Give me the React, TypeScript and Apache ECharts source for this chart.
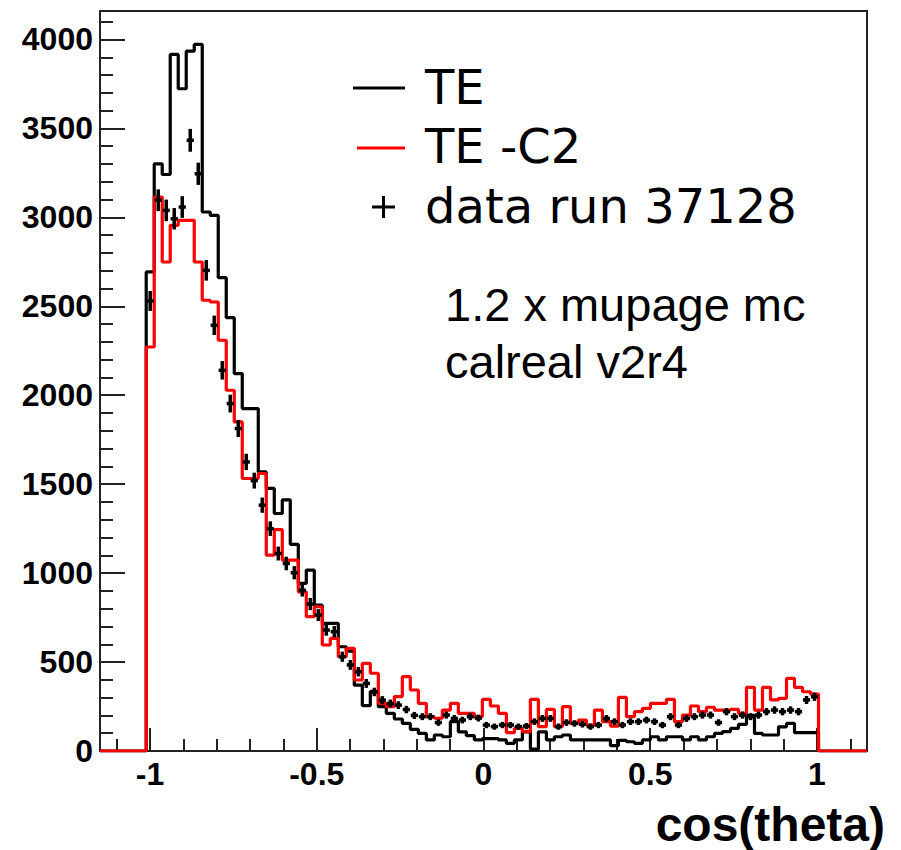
import React, { useEffect, useRef } from "react";
import * as echarts from "echarts";

// Histogram binning (cos(theta))
const BIN_LO = -1.0114;
const BIN_WIDTH = 0.024;
const X_MIN = -1.15;
const X_MAX = 1.15;
const Y_MIN = 0;
const Y_MAX = 4160;

// TE (black histogram)
const TE = [
  2693, 3301, 3241, 3916, 3723, 3934, 3972, 3030, 3011, 2661,
  2436, 2122, 1925, 1925, 1569, 1476, 1335, 1412, 1162, 942,
  1017, 820, 717, 717, 586, 562, 370, 255, 335, 249,
  212, 180, 155, 122, 99, 62, 90, 80, 165, 108,
  86, 62, 70, 70, 62, 43, 62, 108, 10, 108,
  62, 80, 90, 62, 62, 62, 62, 62, 30, 60,
  52, 43, 62, 80, 62, 80, 80, 62, 80, 62,
  80, 99, 109, 127, 150, 200, 99, 90, 90, 136,
  155, 103, 103, 103,
];

// TE -C2 (red histogram)
const TE_C2 = [
  2271, 3114, 2749, 2955, 2983, 2983, 2749, 2534, 2524, 2309,
  2028, 1850, 1532, 1532, 1560, 1101, 1245, 1073, 1073, 895,
  755, 811, 596, 633, 530, 577, 399, 493, 437, 268,
  249, 306, 418, 343, 268, 193, 184, 230, 268, 212,
  212, 193, 290, 253, 212, 103, 127, 109, 290, 137,
  234, 137, 249, 155, 174, 146, 230, 165, 140, 301,
  193, 221, 240, 268, 268, 290, 165, 202, 253, 221,
  246, 230, 230, 234, 212, 358, 230, 358, 287, 296,
  408, 358, 333, 320,
];

// data run 37128 (points with error bars)
const DATA = [
  2530, 3096, 3039, 2992, 3058, 3433, 3245, 2702, 2393, 2140,
  1953, 1813, 1625, 1520, 1382, 1250, 1110, 1054, 1002, 904,
  826, 764, 680, 671, 530, 484, 446, 380, 332, 286,
  267, 258, 233, 200, 193, 193, 160, 202, 183, 174,
  193, 185, 146, 137, 146, 146, 137, 140, 165, 183,
  183, 137, 160, 155, 150, 137, 146, 183, 165, 146,
  165, 165, 174, 165, 146, 193, 146, 183, 193, 202,
  202, 160, 221, 193, 202, 193, 202, 221, 230, 221,
  230, 221, 287, 305,
];

const X_MAJOR_TICKS = [-1, -0.5, 0, 0.5, 1];
const X_MINOR_TICKS = [-1.1, -0.9, -0.8, -0.7, -0.6, -0.4, -0.3, -0.2, -0.1, 0.1, 0.2, 0.3, 0.4, 0.6, 0.7, 0.8, 0.9, 1.1];
const Y_MAJOR_TICKS = [0, 500, 1000, 1500, 2000, 2500, 3000, 3500, 4000];
const Y_MINOR_TICKS = [
  100, 200, 300, 400, 600, 700, 800, 900, 1100, 1200, 1300, 1400,
  1600, 1700, 1800, 1900, 2100, 2200, 2300, 2400, 2600, 2700, 2800, 2900,
  3100, 3200, 3300, 3400, 3600, 3700, 3800, 3900, 4100,
];

const LEGEND_LABELS = ["TE", "TE -C2", "data run 37128"];
const NOTE_LINES = ["1.2 x mupage mc", "calreal v2r4"];
const X_TITLE = "cos(theta)";

function histPoints(values: number[]): number[][] {
  const pts: number[][] = [[X_MIN, 0]];
  values.forEach((v, k) => pts.push([BIN_LO + k * BIN_WIDTH, v]));
  pts.push([BIN_LO + values.length * BIN_WIDTH, 0]);
  pts.push([X_MAX, 0]);
  return pts;
}

const AXIS_COLOR = "#222";
const LABEL_FONT = {
  fontFamily: '"Liberation Sans", Arial, Helvetica, sans-serif',
  fontWeight: "bold" as const,
  fontSize: 32,
  color: "#000",
};

function tickAxis(min: number, max: number, position: string, ticks: number[], len: number, labels: boolean) {
  return {
    type: "value",
    min,
    max,
    position,
    axisLine: { show: false, onZero: false },
    splitLine: { show: false },
    axisTick: {
      show: true,
      inside: true,
      length: len,
      customValues: ticks,
      lineStyle: { color: AXIS_COLOR, width: 2 },
    },
    axisLabel: labels
      ? { show: true, customValues: ticks, formatter: (v: number) => String(v), margin: 7, ...LABEL_FONT }
      : { show: false },
  };
}

export default function App() {
  const ref = useRef<HTMLDivElement>(null);

  useEffect(() => {
    if (!ref.current) return;
    const chart = echarts.init(ref.current, null, { renderer: "svg" });

    const dataPts = DATA.map((v, k) => [BIN_LO + (k + 0.5) * BIN_WIDTH, v, Math.sqrt(v)]);
    const halfW = BIN_WIDTH * 0.45;

    const textStyle = (family: string, size: number, align: string, weight = "normal") => ({
      fontFamily: family,
      fontSize: size,
      fontWeight: weight,
      fill: "#000",
      textAlign: align,
      textVerticalAlign: "middle",
      align,
      verticalAlign: "middle",
    });

    const option: any = {
      animation: false,
      backgroundColor: "#fff",
      grid: {
        left: 100,
        right: 34,
        top: 11,
        bottom: 99,
        show: true,
        borderColor: AXIS_COLOR,
        borderWidth: 2,
        backgroundColor: "#fff",
      },
      xAxis: [
        tickAxis(X_MIN, X_MAX, "bottom", X_MAJOR_TICKS, 23, true),
        tickAxis(X_MIN, X_MAX, "bottom", X_MINOR_TICKS, 12, false),
      ],
      yAxis: [
        tickAxis(Y_MIN, Y_MAX, "left", Y_MAJOR_TICKS, 25, true),
        tickAxis(Y_MIN, Y_MAX, "left", Y_MINOR_TICKS, 13, false),
      ],
      series: [
        {
          name: LEGEND_LABELS[0],
          type: "line",
          step: "end",
          data: histPoints(TE),
          symbol: "none",
          lineStyle: { color: "#000", width: 3.2 },
          silent: true,
          z: 2,
        },
        {
          name: LEGEND_LABELS[1],
          type: "line",
          step: "end",
          data: histPoints(TE_C2),
          symbol: "none",
          lineStyle: { color: "#ff0000", width: 3.2 },
          silent: true,
          z: 3,
        },
        {
          name: LEGEND_LABELS[2],
          type: "custom",
          data: dataPts,
          silent: true,
          z: 4,
          renderItem: (_params: any, api: any) => {
            const x = api.value(0);
            const y = api.value(1);
            const e = api.value(2);
            const c = api.coord([x, y]);
            const top = api.coord([x, y + e]);
            const bot = api.coord([x, y - e]);
            const l = api.coord([x - halfW, y]);
            const r = api.coord([x + halfW, y]);
            return {
              type: "group",
              children: [
                {
                  type: "line",
                  shape: { x1: l[0], y1: c[1], x2: r[0], y2: c[1] },
                  style: { stroke: "#000", lineWidth: 3.5 },
                },
                {
                  type: "line",
                  shape: { x1: c[0], y1: top[1] - 1, x2: c[0], y2: bot[1] + 1 },
                  style: { stroke: "#000", lineWidth: 3.5 },
                },
              ],
            };
          },
        },
      ],
      graphic: [
        {
          type: "line",
          shape: { x1: 353, y1: 88, x2: 405, y2: 88 },
          style: { stroke: "#000", lineWidth: 3 },
        },
        {
          type: "line",
          shape: { x1: 357, y1: 148, x2: 405, y2: 148 },
          style: { stroke: "#ff0000", lineWidth: 3 },
        },
        {
          type: "line",
          shape: { x1: 372, y1: 207, x2: 395, y2: 207 },
          style: { stroke: "#000", lineWidth: 3 },
        },
        {
          type: "line",
          shape: { x1: 383.5, y1: 196, x2: 383.5, y2: 218 },
          style: { stroke: "#000", lineWidth: 3 },
        },
        ...LEGEND_LABELS.map((t, i) => ({
          type: "text",
          x: 425,
          y: [87, 146, 206][i],
          style: { text: t, ...textStyle('"DejaVu Sans", sans-serif', 48, "left") },
        })),
        ...NOTE_LINES.map((t, i) => ({
          type: "text",
          x: 445,
          y: [304, 361][i],
          style: { text: t, ...textStyle('"Liberation Sans", Arial, sans-serif', 47, "left") },
        })),
        {
          type: "text",
          x: 885,
          y: 824,
          style: { text: X_TITLE, ...textStyle('"Liberation Sans", Arial, sans-serif', 48, "right", "bold") },
        },
      ],
    };

    chart.setOption(option);
    return () => chart.dispose();
  }, []);

  return (
    <div
      ref={ref}
      style={{ position: "absolute", left: 0, top: 0, width: 901, height: 850, background: "#fff" }}
    />
  );
}
